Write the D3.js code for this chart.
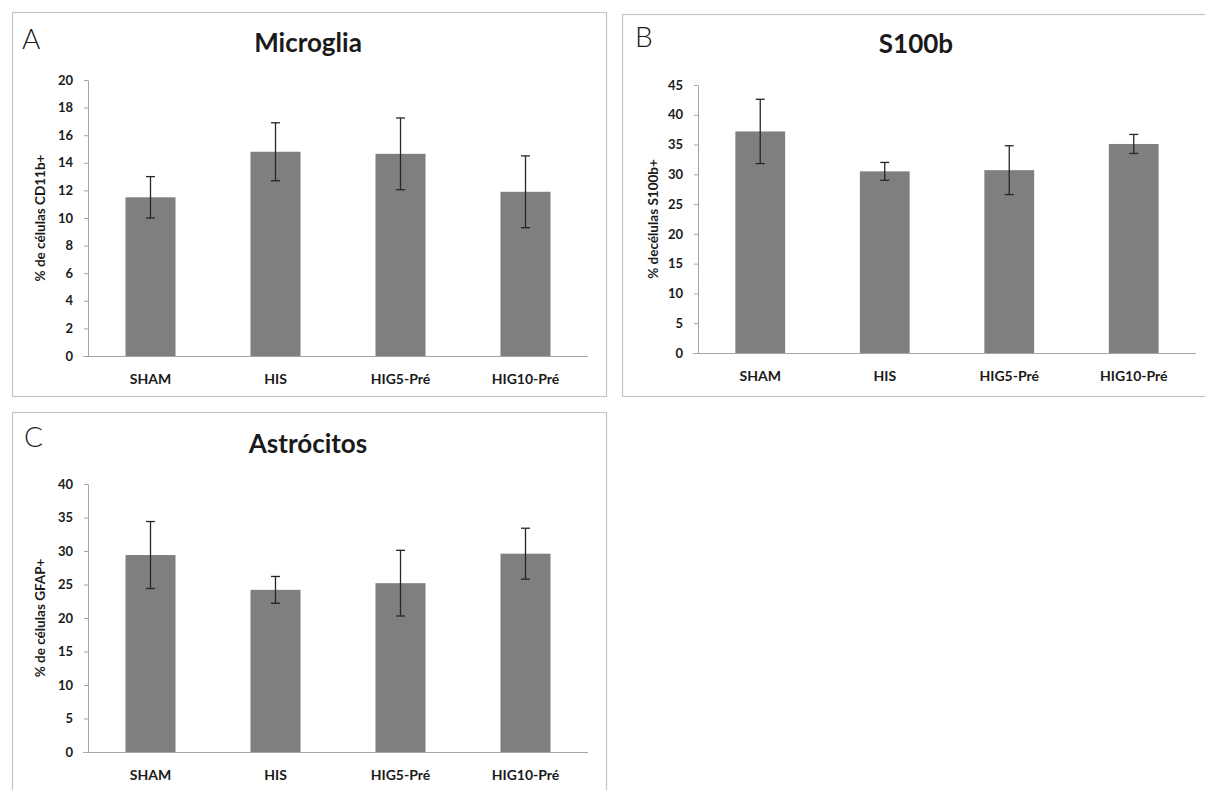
<!DOCTYPE html>
<html>
<head>
<meta charset="utf-8">
<script src="https://cdn.jsdelivr.net/npm/d3@7"></script>
<style>
  html, body { margin: 0; padding: 0; background: #ffffff; }
  svg { display: block; }
  text { font-family: Lato, "Open Sans", "DejaVu Sans", sans-serif; fill: #1a1a1a; }
</style>
</head>
<body>
<svg id="chart" width="1205" height="790"></svg>
<script>
// Group labels shared by all three panels
const categories = ["SHAM", "HIS", "HIG5-Pré", "HIG10-Pré"];

// Panel A: microglia (CD11b+)
const microgliaMeans  = [11.5, 14.8, 14.65, 11.9];
const microgliaErrors = [1.5, 2.1, 2.6, 2.6];
const microgliaTicks  = [0, 2, 4, 6, 8, 10, 12, 14, 16, 18, 20];

// Panel B: S100b+
const s100bMeans  = [37.2, 30.5, 30.7, 35.1];
const s100bErrors = [5.4, 1.5, 4.1, 1.6];
const s100bTicks  = [0, 5, 10, 15, 20, 25, 30, 35, 40, 45];

// Panel C: astrocytes (GFAP+)
const astroMeans  = [29.4, 24.2, 25.2, 29.6];
const astroErrors = [5.0, 2.0, 4.9, 3.8];
const astroTicks  = [0, 5, 10, 15, 20, 25, 30, 35, 40];

const svg = d3.select("#chart");

const panels = [
  {
    letter: "A", title: "Microglia", yLabel: "% de células CD11b+",
    means: microgliaMeans, errors: microgliaErrors, ticks: microgliaTicks,
    box: { x: 12, y: 12, w: 594, h: 384 },
    plot: { left: 88, right: 588, top: 80, bottom: 356 },
    letterPos: [22, 49], titlePos: [308, 52], yLabelX: 45
  },
  {
    letter: "B", title: "S100b", yLabel: "% decélulas S100b+",
    means: s100bMeans, errors: s100bErrors, ticks: s100bTicks,
    box: { x: 622, y: 14, w: 600, h: 382 },
    plot: { left: 698, right: 1196, top: 85, bottom: 353 },
    letterPos: [635, 47], titlePos: [916, 53], yLabelX: 658
  },
  {
    letter: "C", title: "Astrócitos", yLabel: "% de células GFAP+",
    means: astroMeans, errors: astroErrors, ticks: astroTicks,
    box: { x: 12, y: 412, w: 594, h: 400 },
    plot: { left: 88, right: 588, top: 484, bottom: 752 },
    letterPos: [24, 447], titlePos: [308, 453], yLabelX: 45
  }
];

panels.forEach(p => {
  const g = svg.append("g");

  // frame around each panel
  g.append("rect")
    .attr("x", p.box.x + 0.5).attr("y", p.box.y + 0.5)
    .attr("width", p.box.w).attr("height", p.box.h)
    .attr("fill", "#ffffff").attr("stroke", "#c4c4c4").attr("stroke-width", 1.2);

  // panel letter
  g.append("text")
    .attr("x", p.letterPos[0]).attr("y", p.letterPos[1])
    .attr("font-size", 28).attr("font-weight", 300)
    .text(p.letter);

  // title
  g.append("text")
    .attr("x", p.titlePos[0]).attr("y", p.titlePos[1])
    .attr("text-anchor", "middle")
    .attr("font-size", 26).attr("font-weight", 700)
    .text(p.title);

  const yMax = d3.max(p.ticks);
  const x = d3.scaleBand()
    .domain(categories)
    .range([p.plot.left, p.plot.right])
    .paddingInner(0.6).paddingOuter(0.3);
  const y = d3.scaleLinear()
    .domain([0, yMax])
    .range([p.plot.bottom, p.plot.top]);

  // bars
  g.append("g").selectAll("rect")
    .data(categories)
    .join("rect")
    .attr("x", d => x(d))
    .attr("width", x.bandwidth())
    .attr("y", (d, i) => y(p.means[i]))
    .attr("height", (d, i) => y(0) - y(p.means[i]))
    .attr("fill", "#7f7f7f");

  // error bars (mean ± error)
  const eb = g.append("g").attr("stroke", "#262626").attr("stroke-width", 1.3);
  categories.forEach((c, i) => {
    const cx = x(c) + x.bandwidth() / 2;
    const hi = y(p.means[i] + p.errors[i]);
    const lo = y(p.means[i] - p.errors[i]);
    eb.append("line").attr("x1", cx).attr("x2", cx).attr("y1", hi).attr("y2", lo);
    eb.append("line").attr("x1", cx - 4.5).attr("x2", cx + 4.5).attr("y1", hi).attr("y2", hi);
    eb.append("line").attr("x1", cx - 4.5).attr("x2", cx + 4.5).attr("y1", lo).attr("y2", lo);
  });

  // y axis
  const yAxis = g.append("g")
    .attr("transform", `translate(${p.plot.left},0)`)
    .call(d3.axisLeft(y).tickValues(p.ticks).tickSize(4).tickSizeOuter(0).tickPadding(11));
  yAxis.selectAll("path, line").attr("stroke", "#a6a6a6");
  yAxis.selectAll("text")
    .attr("font-size", 13).attr("font-weight", 700)
    .attr("font-family", "Lato, 'Open Sans', sans-serif")
    .attr("fill", "#1a1a1a");

  // x axis
  const xAxis = g.append("g")
    .attr("transform", `translate(0,${p.plot.bottom})`)
    .call(d3.axisBottom(x).tickSize(0).tickPadding(18));
  xAxis.select("path")
    .attr("d", `M${p.plot.left - 5},0.5H${p.plot.right}`)
    .attr("stroke", "#a6a6a6");
  xAxis.selectAll("text")
    .attr("font-size", 14).attr("font-weight", 700)
    .attr("font-family", "Lato, 'Open Sans', sans-serif")
    .attr("fill", "#1a1a1a");

  // y-axis title
  const midY = (p.plot.top + p.plot.bottom) / 2;
  g.append("text")
    .attr("transform", `translate(${p.yLabelX},${midY}) rotate(-90)`)
    .attr("text-anchor", "middle")
    .attr("font-size", 13.5).attr("font-weight", 700)
    .text(p.yLabel);
});
</script>
</body>
</html>
